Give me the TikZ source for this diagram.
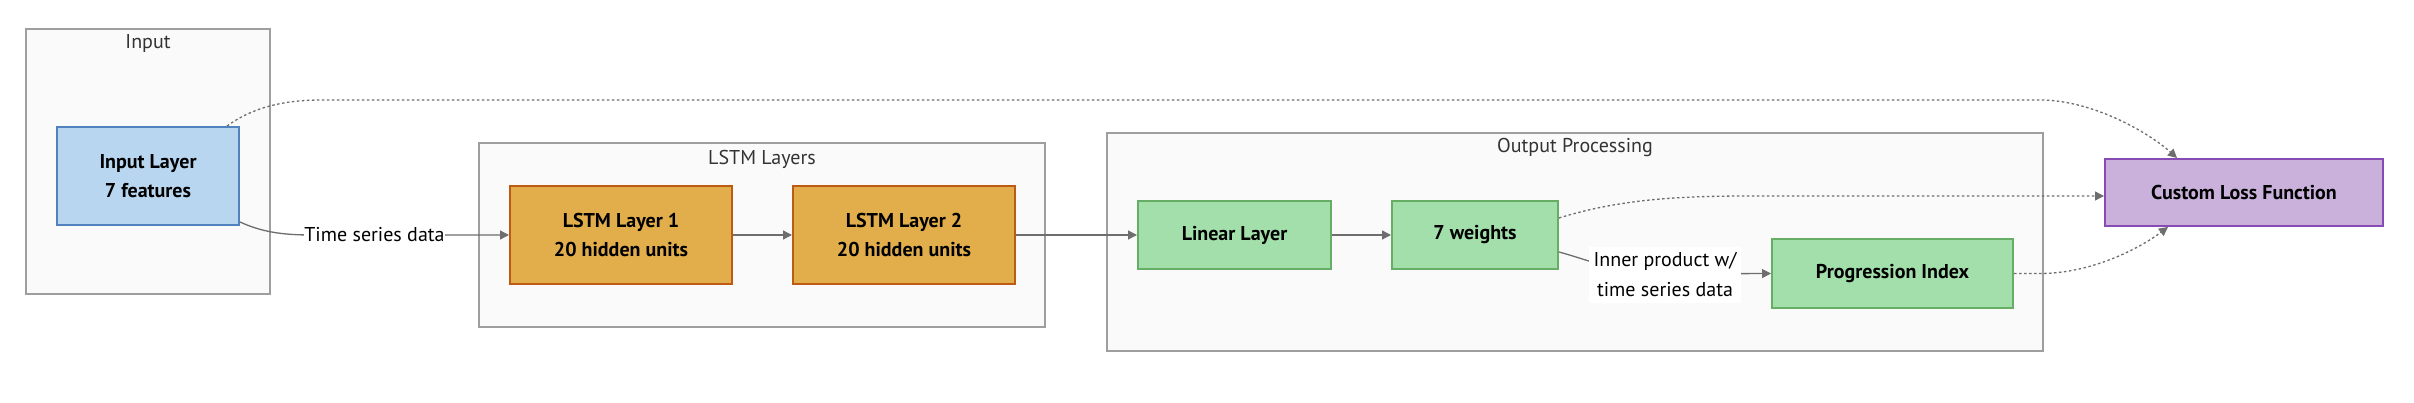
\documentclass[tikz,border=0pt]{standalone}
\usepackage{fontspec}
\setmainfont{PT Sans}
\usetikzlibrary{arrows.meta,calc}
\definecolor{clfill}{HTML}{FAFAFA}
\definecolor{cldraw}{HTML}{9E9E9E}
\definecolor{cltext}{HTML}{333333}
\definecolor{edgec}{HTML}{6E6E6E}
\definecolor{bluef}{HTML}{B9D6F0}
\definecolor{blued}{HTML}{5282BE}
\definecolor{orgf}{HTML}{E2AE4C}
\definecolor{orgd}{HTML}{BE5A14}
\definecolor{grnf}{HTML}{A3DFAA}
\definecolor{grnd}{HTML}{66AD66}
\definecolor{purf}{HTML}{C9B1DB}
\definecolor{purd}{HTML}{874BB4}
\tikzset{
  cluster/.style={draw=cldraw, fill=clfill, line width=1.3pt, rectangle, inner sep=0pt},
  cltitle/.style={text=cltext, font=\fontsize{20}{24}\selectfont, inner sep=0pt},
  box/.style={rectangle, line width=2pt, inner sep=0pt, align=center,
    font=\bfseries\fontsize{20}{29}\selectfont},
  bluebox/.style={box, draw=blued, fill=bluef},
  orgbox/.style={box, draw=orgd, fill=orgf},
  grnbox/.style={box, draw=grnd, fill=grnf},
  purbox/.style={box, draw=purd, fill=purf},
  edge/.style={draw=edgec, line width=1.3pt, -{Triangle[length=9pt,width=9pt]}},
  dotedge/.style={edge, dash pattern=on 2.5pt off 2.5pt},
  elabel/.style={fill=white, inner sep=0pt, align=center, font=\fontsize{20}{30}\selectfont}
}
\begin{document}
\begin{tikzpicture}[x=1pt,y=-1pt]
\useasboundingbox (0,0) rectangle (2414,403);
\fill[white] (0,0) rectangle (2414,403);
% clusters
\node[cluster, minimum width=244, minimum height=265] (cin) at (148,161.5) {};
\node[cltitle] (cinl) at (148,44) {Input};
\node[cluster, minimum width=566, minimum height=184] (clstm) at (762,235) {};
\node[cltitle] (clstml) at (762,159) {LSTM Layers};
\node[cluster, minimum width=936, minimum height=218] (cout) at (1575,242) {};
\node[cltitle] (coutl) at (1575,148) {Output Processing};
% nodes
\node[bluebox, minimum width=182, minimum height=98] (inl) at (148,176) {Input Layer\\7 features};
\node[orgbox, minimum width=222, minimum height=98] (l1) at (621,235) {LSTM Layer 1\\20 hidden units};
\node[orgbox, minimum width=222, minimum height=98] (l2) at (904,235) {LSTM Layer 2\\20 hidden units};
\node[grnbox, minimum width=193, minimum height=68] (lin) at (1234.5,235) {Linear Layer};
\node[grnbox, minimum width=166, minimum height=68] (w7) at (1475,235) {7 weights};
\node[grnbox, minimum width=241, minimum height=69] (prog) at (1892.5,273.5) {Progression Index};
\node[purbox, minimum width=278, minimum height=67] (loss) at (2244,192.5) {Custom Loss Function};
% solid edges
\draw[edge] ($(inl.south east)+(0,-4)$) .. controls (262,232) and (282,235) .. (312,235) -- (l1.west);
\draw[edge] (l1.east) -- (l2.west);
\draw[edge] (l2.east) -- (lin.west);
\draw[edge] (lin.east) -- (w7.west);
\draw[edge] ($(w7.east)+(0,17)$) .. controls (1592,261) and (1620,274) .. (1660,274) -- (prog.west);
% dotted edges
\draw[dotedge] ($(inl.north)+(79,0)$) .. controls (252,108) and (282,100) .. (322,100) -- (2040,100) .. controls (2092,100) and (2148,132) .. ($(loss.north)+(-67,0)$);
\draw[dotedge] ($(w7.east)+(0,-17)$) .. controls (1620,199) and (1680,196) .. (1750,196) -- ($(loss.west)+(0,3.5)$);
\draw[dotedge] (prog.east) -- (2040,273.5) .. controls (2092,273.5) and (2140,248) .. ($(loss.south)+(-76,0)$);
% edge labels
\node[elabel] (tsd) at (374.5,235) {Time series data};
\node[elabel, minimum width=152, minimum height=56] (ipl) at (1665,275) {Inner product w/\\time series data};
\end{tikzpicture}
\end{document}
